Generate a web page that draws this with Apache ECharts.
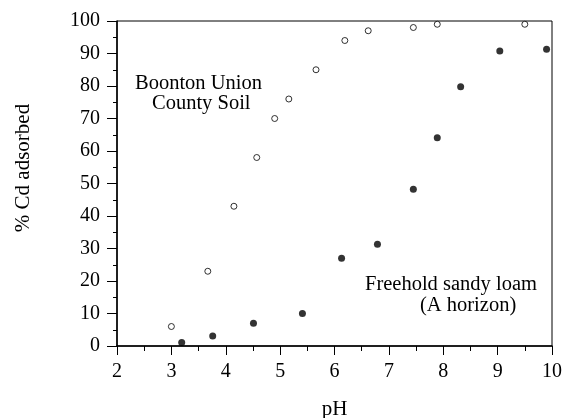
<!DOCTYPE html>
<html>
<head>
<meta charset="utf-8">
<script src="https://cdn.jsdelivr.net/npm/echarts@6/dist/echarts.min.js"></script>
<style>
  html, body { margin: 0; padding: 0; background: #fff; }
  #chart { width: 564px; height: 418px; }
</style>
</head>
<body>
<div id="chart"></div>
<script>
  // Boonton Union County Soil (open circles)
  var boontonPH = [3.0, 3.67, 4.15, 4.57, 4.9, 5.16, 5.66, 6.19, 6.62, 7.45, 7.89, 9.5];
  var boontonCd = [6, 23, 43, 58, 70, 76, 85, 94, 97, 98, 99, 99];
  // Freehold sandy loam, A horizon (filled circles)
  var freeholdPH = [3.19, 3.76, 4.51, 5.41, 6.13, 6.79, 7.45, 7.89, 8.32, 9.04, 9.9];
  var freeholdCd = [1.1, 3.1, 7, 10, 27, 31.3, 48.2, 64.1, 79.8, 90.8, 91.3];

  function pairs(xs, ys) {
    var out = [];
    for (var i = 0; i < xs.length; i++) {
      out.push([xs[i], ys[i]]);
    }
    return out;
  }

  var font = 'Liberation Serif';
  var chart = echarts.init(document.getElementById('chart'));
  chart.setOption({
    animation: false,
    backgroundColor: '#fff',
    grid: {
      left: 117, right: 12, top: 21, bottom: 72,
      outerBoundsMode: 'none',
      containLabel: false,
      show: true, borderColor: '#000', borderWidth: 1
    },
    xAxis: {
      type: 'value',
      min: 2, max: 10, interval: 1,
      name: 'pH',
      nameLocation: 'middle',
      nameGap: 53,
      nameTextStyle: { fontFamily: font, fontSize: 21, color: '#000' },
      axisLine: { show: true, onZero: false, lineStyle: { color: '#000', width: 1.5 } },
      axisTick: { show: true, length: 9, lineStyle: { color: '#000' } },
      minorTick: { show: true, splitNumber: 2, length: 5, lineStyle: { color: '#000' } },
      axisLabel: { fontFamily: font, fontSize: 20, color: '#000', margin: 16 },
      splitLine: { show: false }
    },
    yAxis: {
      type: 'value',
      min: 0, max: 100, interval: 10,
      axisLine: { show: true, lineStyle: { color: '#000', width: 1.5 } },
      axisTick: { show: true, length: 10, lineStyle: { color: '#000' } },
      minorTick: { show: true, splitNumber: 2, length: 4, lineStyle: { color: '#000' } },
      axisLabel: { fontFamily: font, fontSize: 20, color: '#000', margin: 17 },
      splitLine: { show: false }
    },
    series: [
      {
        name: 'Boonton Union County Soil',
        type: 'scatter',
        data: pairs(boontonPH, boontonCd),
        symbol: 'circle',
        symbolSize: 6,
        itemStyle: { color: '#fff', borderColor: '#000', borderWidth: 1 }
      },
      {
        name: 'Freehold sandy loam (A horizon)',
        type: 'scatter',
        data: pairs(freeholdPH, freeholdCd),
        symbol: 'circle',
        symbolSize: 7,
        itemStyle: { color: '#000' }
      }
    ],
    graphic: [
      {
        // y axis title, sits a little above the plot's middle
        type: 'text', x: 23, y: 168, rotation: Math.PI / 2,
        style: {
          text: '% Cd adsorbed', font: '21px "Liberation Serif"', fill: '#000',
          align: 'center', verticalAlign: 'middle'
        }
      },
      {
        type: 'text', left: 135, top: 73,
        style: { text: 'Boonton Union', font: '20.5px "Liberation Serif"', fill: '#000' }
      },
      {
        type: 'text', left: 152, top: 93,
        style: { text: 'County Soil', font: '20.5px "Liberation Serif"', fill: '#000' }
      },
      {
        type: 'text', left: 365, top: 274,
        style: { text: 'Freehold sandy loam', font: '20.5px "Liberation Serif"', fill: '#000' }
      },
      {
        type: 'text', left: 420, top: 295,
        style: { text: '(A horizon)', font: '20.5px "Liberation Serif"', fill: '#000' }
      }
    ]
  });
</script>
</body>
</html>
